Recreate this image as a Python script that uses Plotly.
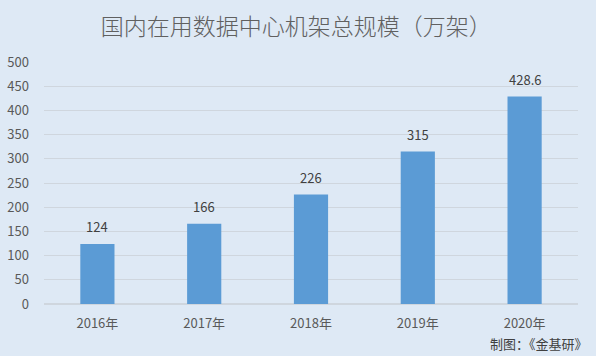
import plotly.graph_objects as go

years = ["2016年", "2017年", "2018年", "2019年", "2020年"]
values = [124, 166, 226, 315, 428.6]
labels = ["124", "166", "226", "315", "428.6"]
yticks = [0, 50, 100, 150, 200, 250, 300, 350, 400, 450, 500]

font_family = "Noto Sans CJK SC, Microsoft YaHei, sans-serif"
bg = "#dee9f5"

fig = go.Figure(go.Bar(
    x=years, y=values,
    marker=dict(color="#5b9bd5", line=dict(width=0)),
))

for yr, v, lab in zip(years, values, labels):
    fig.add_annotation(x=yr, y=v, text=lab, showarrow=False, yanchor="bottom", yshift=6,
                       font=dict(size=13, color="#404040", family=font_family))

fig.update_layout(
    width=596, height=356,
    paper_bgcolor=bg, plot_bgcolor=bg,
    margin=dict(l=44, r=18, t=62, b=52),
    bargap=0.68,
    showlegend=False,
    title=dict(text="国内在用数据中心机架总规模（万架）", x=0.497, xanchor="center", y=0.925, yanchor="middle",
               font=dict(size=23, color="#606060", family=font_family, weight=300)),
    font=dict(family=font_family, color="#595959"),
)
fig.update_yaxes(range=[0, 500], tickvals=yticks, showgrid=True, gridcolor="#cfd6de", gridwidth=1,
                 zeroline=True, zerolinecolor="#cfd6de", tickfont=dict(size=13, color="#595959"),
                 ticks="", ticklabelstandoff=14, automargin=False)
fig.update_xaxes(tickfont=dict(size=13, color="#595959"), showline=False, ticks="",
                 ticklabelstandoff=10, automargin=False)
fig.add_annotation(text="制图：《金基研》", xref="paper", yref="paper", x=1.022, y=-0.115,
                   xanchor="right", yanchor="top", showarrow=False,
                   font=dict(size=13, color="#404040", family=font_family))

fig.write_html("out.html")
